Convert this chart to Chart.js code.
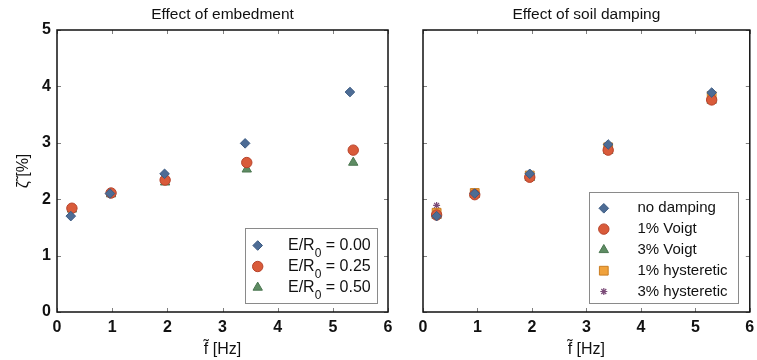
<!DOCTYPE html>
<html><head><meta charset="utf-8">
<script src="https://cdn.jsdelivr.net/npm/chart.js@4/dist/chart.umd.min.js"></script>
<style>
html,body{margin:0;padding:0;background:#fff;}
#wrap{position:relative;width:757px;height:360px;overflow:hidden;background:#fff;}
#c1{position:absolute;left:0;top:0;}
#c2{position:absolute;left:400px;top:0;}
</style></head><body>
<div id="wrap"><canvas id="c1" width="400" height="360"></canvas><canvas id="c2" width="357" height="360"></canvas></div>
<script>
// ---- data: Effect of embedment ----
const embX000 = [0.25, 0.96, 1.95, 3.41, 5.31];
const embY000 = [1.70, 2.10, 2.45, 2.99, 3.90];
const embX025 = [0.27, 0.98, 1.96, 3.44, 5.37];
const embY025 = [1.84, 2.11, 2.34, 2.65, 2.87];
const embX050 = [0.27, 0.98, 1.96, 3.44, 5.37];
const embY050 = [1.82, 2.09, 2.30, 2.53, 2.65];
const embLabels = ['0.00', '0.25', '0.50'];
// ---- data: Effect of soil damping ----
const dampX = [0.25, 0.95, 1.96, 3.40, 5.30];
const noDamping = [1.70, 2.10, 2.45, 2.97, 3.89];
const voigt1 = [1.72, 2.08, 2.39, 2.87, 3.76];
const voigt3 = [1.71, 2.08, 2.38, 2.86, 3.75];
const hyst1 = [1.76, 2.11, 2.42, 2.92, 3.83];
const hyst3 = [1.89, 2.12, 2.43, 2.94, 3.85];
const dampLabels = ['no damping', '1% Voigt', '3% Voigt', '1% hysteretic', '3% hysteretic'];
// ---- axis ticks ----
const xTicks = [0, 1, 2, 3, 4, 5, 6];
const yTicks = [0, 1, 2, 3, 4, 5];
const titles = ['Effect of embedment', 'Effect of soil damping'];

const FONT = "'Liberation Sans', Arial, sans-serif";
const sty = {
  diamond: {pointStyle:'rectRot', radius:4.8, backgroundColor:'#4d6c95', borderColor:'#3b5a82', borderWidth:1},
  circle: {pointStyle:'circle', radius:5.2, backgroundColor:'#d95b3a', borderColor:'#b7432b', borderWidth:1},
  triangle: {pointStyle:'triangle', radius:5.4, backgroundColor:'#5e8c63', borderColor:'#4a7650', borderWidth:1},
  square: {pointStyle:'rect', radius:6.2, backgroundColor:'#f0a23c', borderColor:'#c97d22', borderWidth:1},
  star: {pointStyle:'star', radius:3.5, backgroundColor:'#7b4b78', borderColor:'#7b4b78', borderWidth:1.2}
};
function pts(xs, ys){ return xs.map((x,i)=>({x:x, y:ys[i]})); }
function ds(label, xs, ys, s){
  return {label:label, data:pts(xs,ys), pointStyle:s.pointStyle, pointRadius:s.radius, pointHoverRadius:s.radius,
    backgroundColor:s.backgroundColor, borderColor:s.borderColor, pointBorderWidth:s.borderWidth, showLine:false, _sty:s};
}

function drawMarker(ctx, s, x, y){
  ctx.save();
  ctx.fillStyle = s.backgroundColor; ctx.strokeStyle = s.borderColor; ctx.lineWidth = s.borderWidth;
  const r = s.radius;
  ctx.beginPath();
  if (s.pointStyle === 'rectRot') { ctx.moveTo(x, y-r); ctx.lineTo(x+r, y); ctx.lineTo(x, y+r); ctx.lineTo(x-r, y); ctx.closePath(); ctx.fill(); ctx.stroke(); }
  else if (s.pointStyle === 'circle') { ctx.arc(x, y, r, 0, Math.PI*2); ctx.fill(); ctx.stroke(); }
  else if (s.pointStyle === 'triangle') { const h = r*Math.sqrt(3)/2; ctx.moveTo(x, y-r); ctx.lineTo(x+h, y+r/2); ctx.lineTo(x-h, y+r/2); ctx.closePath(); ctx.fill(); ctx.stroke(); }
  else if (s.pointStyle === 'rect') { const a = r*Math.SQRT1_2; ctx.rect(x-a, y-a, 2*a, 2*a); ctx.fill(); ctx.stroke(); }
  else if (s.pointStyle === 'star') {
    for (let k=0;k<4;k++){ const an = k*Math.PI/4; ctx.moveTo(x-Math.cos(an)*r, y-Math.sin(an)*r); ctx.lineTo(x+Math.cos(an)*r, y+Math.sin(an)*r); }
    ctx.stroke();
  }
  ctx.restore();
}

function framePlugin(cfg){
  return {
    id:'frame'+cfg.id,
    afterDraw(chart){
      const ctx = chart.ctx, a = chart.chartArea;
      const xs = chart.scales.x, ys = chart.scales.y;
      ctx.save();
      // title
      ctx.fillStyle = '#111'; ctx.font = '15.5px ' + FONT; ctx.textAlign = 'center'; ctx.textBaseline = 'middle';
      ctx.fillText(cfg.title, (a.left + a.right)/2, 15);
      // inward ticks
      ctx.strokeStyle = '#808080'; ctx.lineWidth = 1;
      ctx.beginPath();
      xTicks.forEach(v=>{ const p = Math.round(xs.getPixelForValue(v))+0.5; ctx.moveTo(p, a.bottom); ctx.lineTo(p, a.bottom-4); ctx.moveTo(p, a.top); ctx.lineTo(p, a.top+4); });
      yTicks.forEach(v=>{ const p = Math.round(ys.getPixelForValue(v))+0.5; ctx.moveTo(a.left, p); ctx.lineTo(a.left+4, p); ctx.moveTo(a.right, p); ctx.lineTo(a.right-4, p); });
      ctx.stroke();
      // frame
      ctx.strokeStyle = '#111'; ctx.lineWidth = 1.5;
      ctx.strokeRect(a.left, a.top, a.right-a.left, a.bottom-a.top);
      // legend
      const L = cfg.legend;
      const bx = a.right - L.gapR - L.w, by = a.bottom - L.gapB - L.h;
      ctx.fillStyle = '#fff'; ctx.fillRect(bx, by, L.w, L.h);
      ctx.strokeStyle = '#8a8a8a'; ctx.lineWidth = 1;
      ctx.strokeRect(Math.round(bx)+0.5, Math.round(by)+0.5, L.w, L.h);
      chart.data.datasets.forEach((d,i)=>{
        const ry = by + L.first + i*L.step;
        drawMarker(ctx, d._sty, bx + L.mx, ry);
        ctx.fillStyle = '#111'; ctx.textAlign = 'left'; ctx.textBaseline = 'middle';
        ctx.font = L.font + 'px ' + FONT;
        cfg.drawLabel(ctx, i, bx + L.tx, ry);
      });
      ctx.restore();
    }
  };
}

function makeOptions(showYLabels, yWidth, padRight){
  return {
    responsive:false, devicePixelRatio:1, animation:false,
    layout:{padding:{left:0, right:padRight, top:30, bottom:0}},
    plugins:{legend:{display:false}, title:{display:false}, tooltip:{enabled:false}},
    scales:{
      x:{type:'linear', min:0, max:6,
        afterBuildTicks(s){ s.ticks = xTicks.map(v=>({value:v})); },
        afterFit(s){ s.height = 48; s.paddingLeft = 0; s.paddingRight = 0; },
        grid:{display:false, drawTicks:false}, border:{display:false},
        ticks:{padding:6, color:'#111', font:{size:16, family:FONT, weight:'bold'}},
        title:{display:true, text:'f\u0303 [Hz]', color:'#111', font:{size:16, family:FONT}, padding:{top:0, bottom:1}}
      },
      y:{type:'linear', min:0, max:5,
        afterBuildTicks(s){ s.ticks = yTicks.map(v=>({value:v})); },
        afterFit(s){ s.width = yWidth; s.paddingTop = 0; s.paddingBottom = 0; },
        grid:{display:false, drawTicks:false}, border:{display:false},
        ticks:{display:showYLabels, padding:6, color:'#111', font:{size:16, family:FONT, weight:'bold'}},
        title:{display:showYLabels, text:'\u03B6\u0303 [%]', color:'#111', font:{size:16, family:FONT}, padding:{top:14, bottom:0}}
      }
    }
  };
}

new Chart(document.getElementById('c1'), {
  type:'scatter',
  data:{datasets:[
    ds('E/R0 = 0.00', embX000, embY000, sty.diamond),
    ds('E/R0 = 0.25', embX025, embY025, sty.circle),
    ds('E/R0 = 0.50', embX050, embY050, sty.triangle)
  ]},
  options:makeOptions(true, 57, 12),
  plugins:[framePlugin({id:1, title:titles[0],
    legend:{w:132, h:75, gapR:11, gapB:9, first:17.5, step:21, mx:12.7, tx:43, font:16},
    drawLabel(ctx, i, x, y){
      ctx.fillText('E/R', x, y);
      let w = ctx.measureText('E/R').width;
      ctx.font = '12px ' + FONT;
      ctx.fillText('0', x + w, y + 8);
      w += ctx.measureText('0').width;
      ctx.font = '16px ' + FONT;
      ctx.fillText(' = ' + embLabels[i], x + w, y);
    }})]
});

new Chart(document.getElementById('c2'), {
  type:'scatter',
  data:{datasets:[
    ds(dampLabels[0], dampX, noDamping, sty.diamond),
    ds(dampLabels[1], dampX, voigt1, sty.circle),
    ds(dampLabels[2], dampX, voigt3, sty.triangle),
    ds(dampLabels[3], dampX, hyst1, sty.square),
    ds(dampLabels[4], dampX, hyst3, sty.star)
  ]},
  options:makeOptions(false, 23, 2),
  plugins:[framePlugin({id:2, title:titles[1],
    legend:{w:149, h:111, gapR:12, gapB:9, first:16.3, step:20.8, mx:15, tx:48.7, font:15},
    drawLabel(ctx, i, x, y){ ctx.fillText(dampLabels[i], x, y); }})]
});
</script>
</body></html>
